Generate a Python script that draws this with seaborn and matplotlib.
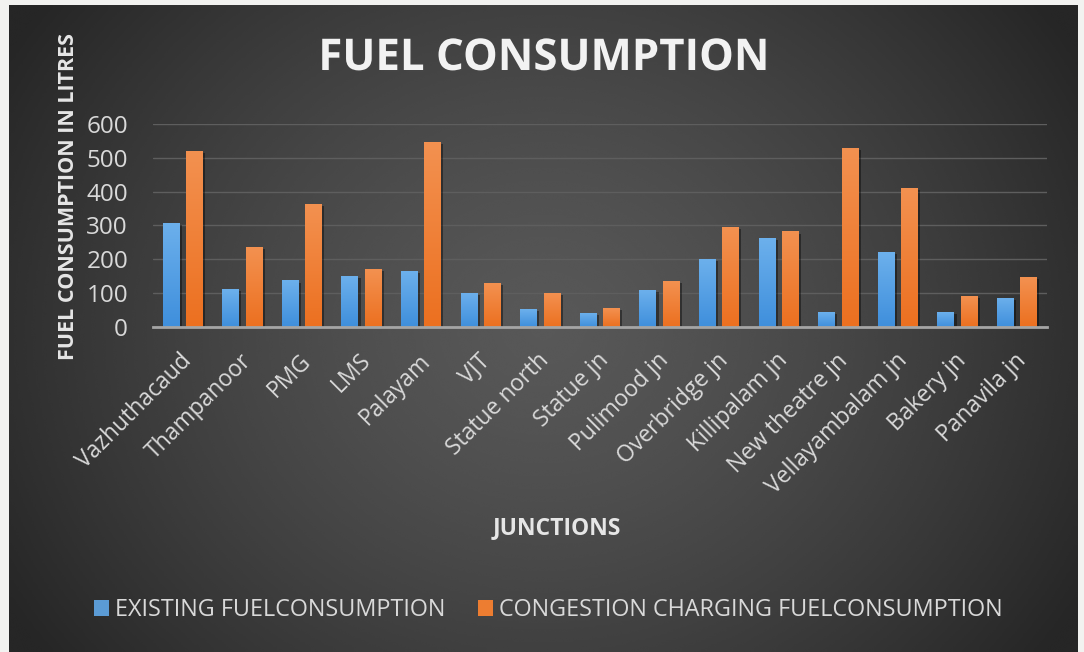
import numpy as np
import pandas as pd
import matplotlib
matplotlib.use("Agg")
import matplotlib.pyplot as plt
import matplotlib.transforms as mtransforms
from matplotlib.patches import Patch, Rectangle
from matplotlib.colors import LinearSegmentedColormap
import matplotlib.patheffects as pe
import seaborn as sns

# ---- data -------------------------------------------------------------
junctions = ["Vazhuthacaud", "Thampanoor", "PMG", "LMS", "Palayam", "VJT",
             "Statue north", "Statue jn", "Pulimood jn", "Overbridge jn",
             "Killipalam jn", "New theatre jn", "Vellayambalam jn",
             "Bakery jn", "Panavila jn"]
existing = [308, 112, 137, 150, 164, 99, 52, 40, 108, 201, 262, 43, 222, 43, 86]
congestion = [521, 235, 363, 171, 547, 129, 99, 56, 136, 295, 282, 530, 410, 90, 146]
series_names = ["EXISTING FUELCONSUMPTION", "CONGESTION CHARGING FUELCONSUMPTION"]
y_ticks = [0, 100, 200, 300, 400, 500, 600]

df = pd.DataFrame({
    "junction": junctions * 2,
    "litres": existing + congestion,
    "series": [series_names[0]] * len(junctions) + [series_names[1]] * len(junctions),
})

# ---- style ------------------------------------------------------------
sns.set_theme(style="dark")
plt.rcParams["font.family"] = ["Open Sans", "DejaVu Sans"]

BLUE = "#5b9bd5"
ORANGE = "#ed7d31"
TEXT = "#d9d9d9"

W, H = 1084, 652
fig = plt.figure(figsize=(W / 100, H / 100), dpi=100)
fig.patch.set_facecolor("#f2f2f0")

# dark panel with a soft radial gradient
bg_ax = fig.add_axes([9 / W, 0, (1078 - 9) / W, 1 - 5 / H])
bg_ax.set_axis_off()
gy, gx = np.mgrid[0:1:300j, 0:1:500j]
r = np.sqrt(((gx - 0.5) / 0.55) ** 2 + ((gy - 0.5) / 0.8) ** 2)
shade = np.clip(0.345 - 0.18 * r ** 1.4, 0.15, 0.36)
bg_ax.imshow(shade, cmap="gray", vmin=0, vmax=1, aspect="auto",
             extent=[0, 1, 0, 1], interpolation="bicubic")
bg_ax.set_xlim(0, 1)
bg_ax.set_ylim(0, 1)

# plotting area
ax = fig.add_axes([153 / W, 1 - 326.7 / H, (1047 - 153) / W, (326.7 - 124) / H])
ax.patch.set_alpha(0)

sns.barplot(data=df, x="junction", y="litres", hue="series",
            palette=[BLUE, ORANGE], width=0.78, gap=0.27, linewidth=0,
            saturation=1, legend=False, ax=ax, zorder=3)

# vertical gradient fill + soft shadow on each bar
grad_maps = {
    BLUE: LinearSegmentedColormap.from_list("b", ["#3f8fdc", "#6cb0ec"]),
    ORANGE: LinearSegmentedColormap.from_list("o", ["#ec7020", "#f39150"]),
}
bars = [p for p in ax.patches if isinstance(p, Rectangle)]
for p in bars:
    fc = matplotlib.colors.to_hex(p.get_facecolor())
    key = BLUE if fc.lower() == BLUE else ORANGE
    x0, y0 = p.get_x(), p.get_y()
    w, h = p.get_width(), p.get_height()
    p.set_edgecolor("none")
    p.set_path_effects([pe.SimplePatchShadow(offset=(1.5, -1.5), shadow_rgbFace="black",
                                             alpha=0.4), pe.Normal()])
    im = ax.imshow(np.linspace(0, 1, 64).reshape(-1, 1), cmap=grad_maps[key],
                   extent=[x0, x0 + w, y0, y0 + h], origin="lower",
                   aspect="auto", zorder=4)
    im.set_clip_path(p)

ax.set_xlim(-0.5, len(junctions) - 0.5)
ax.set_ylim(0, 600)
ax.set_yticks(y_ticks)
ax.set_yticklabels([str(v) for v in y_ticks])

ax.grid(axis="y", color="#5e5e5e", linewidth=1.0, zorder=0)
ax.grid(axis="x", visible=False)
for s in ["top", "right", "left"]:
    ax.spines[s].set_visible(False)
ax.spines["bottom"].set_color("#a5a5a5")
ax.spines["bottom"].set_linewidth(2)
ax.spines["bottom"].set_zorder(5)

ax.tick_params(axis="y", length=0, pad=18, labelsize=17.5, labelcolor=TEXT)
ax.tick_params(axis="x", length=0, pad=22, labelsize=16.5, labelcolor=TEXT)
offset = mtransforms.ScaledTranslation(4 / 72, 0, fig.dpi_scale_trans)
for lbl in ax.get_xticklabels():
    lbl.set_rotation(45)
    lbl.set_ha("right")
    lbl.set_va("center")
    lbl.set_rotation_mode("anchor")
    lbl.set_transform(lbl.get_transform() + offset)

ax.set_xlabel("")
ax.set_ylabel("")

fig.text(543.5 / W, 1 - 58.5 / H, "FUEL CONSUMPTION", ha="center", va="center",
         fontsize=31.5, fontweight="bold", color="#f2f2f2",
         path_effects=[pe.SimplePatchShadow(offset=(1.2, -1.2), alpha=0.35),
                       pe.Normal()])
fig.text(68.7 / W, 1 - 196.7 / H, "FUEL CONSUMPTION IN LITRES", rotation=90,
         ha="center", va="center", fontsize=15.5, fontweight="bold", color="#e6e6e6")
fig.text(557 / W, 1 - 528 / H, "JUNCTIONS", ha="center", va="center",
         fontsize=16.5, fontweight="bold", color="#e6e6e6")

handles = [Patch(facecolor=BLUE, edgecolor="none"), Patch(facecolor=ORANGE, edgecolor="none")]
leg = fig.legend(handles, series_names, loc="center", bbox_to_anchor=(548 / W, 1 - 610 / H),
                 ncol=2, frameon=False, fontsize=16.8, handlelength=0.65, handleheight=0.65,
                 handletextpad=0.25, columnspacing=1.4, labelcolor=TEXT)

fig.savefig("out.png", dpi=100, facecolor=fig.get_facecolor())
